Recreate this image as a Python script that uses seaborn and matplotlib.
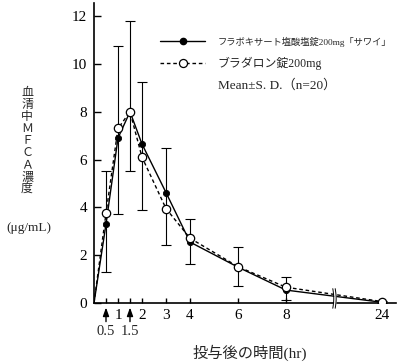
import numpy as np
import matplotlib
matplotlib.use("Agg")
import matplotlib.pyplot as plt
from matplotlib.lines import Line2D
import seaborn as sns

# ---- data ----
times = [0, 0.5, 1, 1.5, 2, 3, 4, 6, 8, 24]
sawai = [0, 3.3, 6.9, 8.0, 6.65, 4.62, 2.55, 1.5, 0.54, 0.03]
bladderon = [0, 3.75, 7.3, 8.0, 6.1, 3.95, 2.71, 1.52, 0.66, 0.06]
err_times = [0.5, 1, 1.5, 2, 3, 4, 6, 8, 24]
err_low = [1.3, 3.74, 5.53, 3.9, 2.44, 1.64, 0.72, 0.11, 0.0]
err_high = [5.54, 10.77, 11.8, 9.25, 6.49, 3.51, 2.33, 1.1, 0.1]
xticks = [0.5, 1, 1.5, 2, 3, 4, 6, 8, 24]
xticklabels = ["", "1", "", "2", "3", "4", "6", "8", "24"]
arrow_ticks = [0.5, 1.5]
arrow_labels = ["0.5", "1.5"]
yticks = [0, 2, 4, 6, 8, 10, 12]
label_a = "フラボキサート塩酸塩錠200mg「サワイ」"
label_b = "ブラダロン錠200mg"
label_c = "Mean±S. D.（n=20）"
ylabel_chars = "血清中ＭＦＣＡ濃度"
ylabel_unit = "(μg/mL)"
xlabel = "投与後の時間(hr)"

sns.set_style("ticks")
FAM = ["Liberation Serif", "Noto Sans CJK JP"]
plt.rcParams["font.family"] = FAM

fig = plt.figure(figsize=(4, 3.64), dpi=100)
ax = fig.add_axes([94 / 400, 1 - 303 / 364, 302.4 / 400, 300 / 364])


def fwd(t):
    t = np.asarray(t, dtype=float)
    return np.where(t <= 8, t, 8 + (t - 8) / 4)


def inv(p):
    p = np.asarray(p, dtype=float)
    return np.where(p <= 8, p, 8 + (p - 8) * 4)


ax.set_xscale("function", functions=(fwd, inv))

dash = (0, (2.6, 2.0))
sns.lineplot(x=times, y=sawai, ax=ax, color="k", lw=1.0, sort=False,
             estimator=None, zorder=3)
sns.lineplot(x=times, y=bladderon, ax=ax, color="k", lw=1.0, sort=False,
             estimator=None, linestyle=dash, zorder=3)

mid = [(lo + hi) / 2 for lo, hi in zip(err_low, err_high)]
half = [(hi - lo) / 2 for lo, hi in zip(err_low, err_high)]
ax.errorbar(err_times, mid, yerr=half, fmt="none", ecolor="k",
            elinewidth=0.8, capsize=3.6, capthick=0.8, zorder=2)

sns.scatterplot(x=times[1:], y=sawai[1:], ax=ax, color="k", s=20,
                edgecolor="k", linewidth=0.6, zorder=4, legend=False)
sns.scatterplot(x=times[1:], y=bladderon[1:], ax=ax, color="white", s=36,
                edgecolor="k", linewidth=0.9, zorder=5, legend=False)

ax.set_xlim(0, inv(12.6))
ax.set_ylim(0, 12.55)
sns.despine(ax=ax)
for s in ["left", "bottom"]:
    ax.spines[s].set_linewidth(1.2)
    ax.spines[s].set_color("k")

ax.set_yticks(yticks)
ax.set_yticklabels([str(v) for v in yticks])
ax.set_xticks(xticks)
ax.set_xticklabels(xticklabels)
ax.xaxis.set_minor_locator(matplotlib.ticker.NullLocator())
ax.tick_params(axis="both", direction="in", colors="k", width=1.0,
               labelsize=11)
ax.tick_params(axis="y", length=5, pad=5)
ax.tick_params(axis="x", length=3.5, pad=4)
ax.set_xlabel("")
ax.set_ylabel("")

# arrows for 0.5 and 1.5
xt = ax.get_xaxis_transform()
for t, lab in zip(arrow_ticks, arrow_labels):
    ax.annotate("", xy=(t, -0.015), xytext=(t, -0.062), xycoords=xt,
                textcoords=xt,
                arrowprops=dict(arrowstyle="-|>,head_length=0.5,head_width=0.18",
                                color="k", lw=1.0, shrinkA=0, shrinkB=0))
    ax.text(t, -0.096, lab, transform=xt, ha="center", va="center",
            fontsize=10.5, family=FAM)

# axis break at t = 16
bx = 16
yy = np.linspace(-0.22, 0.6, 30)
wig = 0.04 * np.sin((yy + 0.22) / 0.82 * np.pi)
xl = fwd(bx) - 0.05 + wig
xr = fwd(bx) + 0.05 + wig
ax.fill_betweenx(yy, inv(xl), inv(xr), color="white", zorder=6, clip_on=False,
                 lw=0)
ax.plot(inv(xl), yy, color="k", lw=0.7, zorder=7, clip_on=False)
ax.plot(inv(xr), yy, color="k", lw=0.7, zorder=7, clip_on=False)

# legend
handles = [
    Line2D([], [], color="k", lw=1.0, marker="o", ms=4.5, mfc="k", mec="k"),
    Line2D([], [], color="k", lw=1.0, linestyle=dash, marker="o", ms=5.8,
           mfc="white", mec="k", mew=0.9),
    Line2D([], [], linestyle="none"),
]
leg = ax.legend(handles, [label_a, label_b, label_c], loc="upper left",
                bbox_to_anchor=(160 / 400, 1 - 37 / 364),
                bbox_transform=fig.transFigure, frameon=False, fontsize=8,
                handlelength=4.05, handletextpad=1.15, labelspacing=0.85,
                borderpad=0, borderaxespad=0)
txts = leg.get_texts()
txts[0].set_fontsize(6.7)
txts[1].set_fontsize(8.6)
txts[2].set_fontsize(9.5)

# y label (stacked characters)
fig.text(27 / 400, 1 - 141 / 364, "\n".join(ylabel_chars), ha="center",
         va="center", fontsize=8.6, linespacing=1.0, family=FAM)
fig.text(29 / 400, 1 - 228 / 364, ylabel_unit, ha="center", va="center",
         fontsize=9.5, family=FAM)
fig.text(250 / 400, 1 - 353 / 364, xlabel, ha="center", va="center",
         fontsize=11, family=FAM)

fig.savefig("out.png", dpi=100)
